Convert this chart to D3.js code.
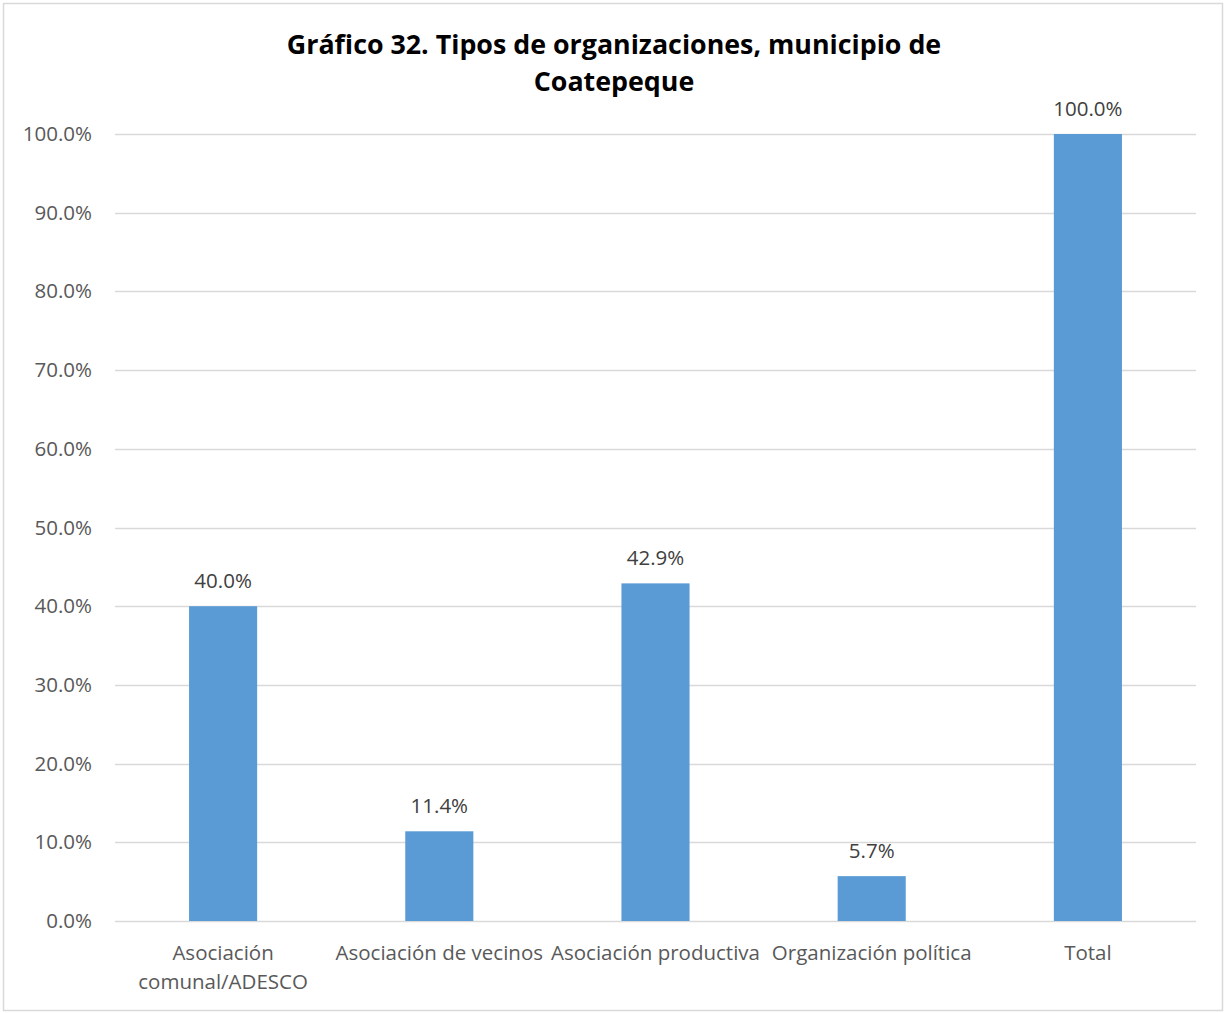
<!DOCTYPE html>
<html lang="es">
<head>
    <meta charset="UTF-8">
    <title>Gráfico 32</title>
    <script src="https://d3js.org/d3.v7.min.js"></script>
    <style>
        body {
            margin: 0;
            padding: 0;
            background: #fff;
        }
        text {
            font-family: "Open Sans", "Noto Sans", sans-serif;
        }
    </style>
</head>
<body>
    <div id="chart"></div>

    <script>
        // datos del gráfico
        const categorias = ["Asociación\ncomunal/ADESCO", "Asociación de vecinos", "Asociación productiva", "Organización política", "Total"];
        const valores = [40.0, 11.4, 42.9, 5.7, 100.0];
        const ticks = [0, 10, 20, 30, 40, 50, 60, 70, 80, 90, 100];
        const titulo = ["Gráfico 32. Tipos de organizaciones, municipio de", "Coatepeque"];

        const width = 1226;
        const height = 1013;

        const svg = d3.select("#chart")
            .append("svg")
            .attr("width", width)
            .attr("height", height);

        // marco
        svg.append("rect")
            .attr("x", 3.5)
            .attr("y", 3.5)
            .attr("width", 1219)
            .attr("height", 1007)
            .attr("fill", "#fff")
            .attr("stroke", "#d9d9d9")
            .attr("stroke-width", 1.5);

        const x = d3.scaleBand()
            .domain(categorias)
            .range([115, 1196])
            .paddingInner(0.685)
            .paddingOuter(0.3425);

        const y = d3.scaleLinear()
            .domain([0, 100])
            .range([921, 134]);

        // líneas de cuadrícula
        svg.append("g")
            .selectAll("line")
            .data(ticks)
            .enter().append("line")
            .attr("x1", 115)
            .attr("x2", 1196)
            .attr("y1", d => Math.round(y(d)) + 0.5)
            .attr("y2", d => Math.round(y(d)) + 0.5)
            .attr("stroke", "#d9d9d9")
            .attr("stroke-width", 1.5);

        // eje y
        const ejeY = svg.append("g")
            .attr("transform", "translate(95,0)")
            .call(d3.axisLeft(y).tickValues(ticks).tickSize(0).tickFormat(d => d.toFixed(1) + "%"));
        ejeY.select(".domain").remove();
        ejeY.selectAll("text")
            .attr("font-size", 20.5)
            .attr("fill", "#595959")
            .style("font-family", "'Open Sans', sans-serif");

        // barras
        svg.append("g")
            .selectAll("rect")
            .data(valores)
            .enter().append("rect")
            .attr("x", (d, i) => x(categorias[i]))
            .attr("y", d => y(d))
            .attr("width", x.bandwidth())
            .attr("height", d => y(0) - y(d))
            .attr("fill", "#5b9bd5");

        // etiquetas de valor
        svg.append("g")
            .selectAll("text")
            .data(valores)
            .enter().append("text")
            .attr("x", (d, i) => x(categorias[i]) + x.bandwidth() / 2)
            .attr("y", d => y(d) - 18)
            .attr("text-anchor", "middle")
            .attr("font-size", 20.5)
            .attr("fill", "#404040")
            .text(d => d.toFixed(1) + "%");

        // etiquetas de categoría
        const cat = svg.append("g")
            .selectAll("text")
            .data(categorias)
            .enter().append("text")
            .attr("x", d => x(d) + x.bandwidth() / 2)
            .attr("y", 960)
            .attr("text-anchor", "middle")
            .attr("font-size", 20.5)
            .attr("fill", "#595959");
        cat.selectAll("tspan")
            .data(d => d.split("\n").map(t => ({ t, cx: x(d) + x.bandwidth() / 2 })))
            .enter().append("tspan")
            .attr("x", d => d.cx)
            .attr("dy", (d, i) => i === 0 ? 0 : 29)
            .text(d => d.t);

        // título
        svg.append("g")
            .selectAll("text")
            .data(titulo)
            .enter().append("text")
            .attr("x", 614)
            .attr("y", (d, i) => 54 + i * 37)
            .attr("text-anchor", "middle")
            .attr("font-size", 26.8)
            .attr("font-weight", "bold")
            .attr("fill", "#000")
            .text(d => d);
    </script>
</body>
</html>
